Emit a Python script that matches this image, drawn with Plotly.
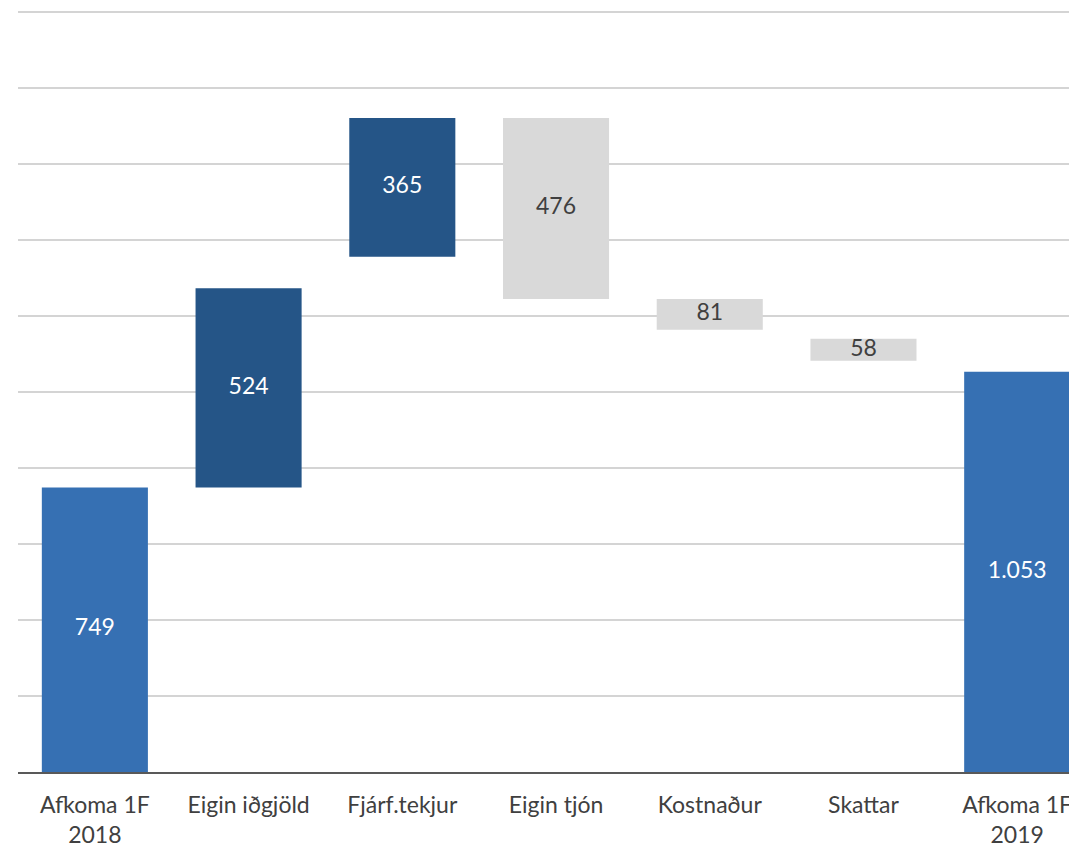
import plotly.graph_objects as go

categories = ["Afkoma 1F<br>2018", "Eigin iðgjöld", "Fjárf.tekjur", "Eigin tjón",
              "Kostnaður", "Skattar", "Afkoma 1F<br>2019"]
values = [749, 524, 365, 476, 81, 58, 1053]
bases = [0, 749, 1356, 1245, 1164, 1082, 0]
kinds = ["total", "up", "up", "down", "down", "down", "total"]
grid_values = [200, 400, 600, 800, 1000, 1200, 1400, 1600, 1800, 2000]

color_map = {"total": "#3670B3", "up": "#255587", "down": "#D9D9D9"}
text_color_map = {"total": "white", "up": "white", "down": "#404040"}

def fmt(v):
    return f"{v:,}".replace(",", ".")

bar_colors = [color_map[k] for k in kinds]
label_colors = [text_color_map[k] for k in kinds]
labels = [fmt(v) for v in values]
mids = [b + v / 2 for b, v in zip(bases, values)]

fig = go.Figure()
fig.add_trace(go.Bar(
    x=categories, y=values, base=bases,
    marker=dict(color=bar_colors, line=dict(width=0)),
    width=0.69, hoverinfo="skip", showlegend=False,
))
fig.add_trace(go.Scatter(
    x=categories, y=mids, mode="text", text=labels,
    textfont=dict(family="Lato", size=23, color=label_colors),
    textposition="middle center", hoverinfo="skip", showlegend=False,
))

fig.update_layout(
    width=1069, height=842,
    margin=dict(l=10, r=0, t=0, b=78),
    paper_bgcolor="white", plot_bgcolor="white",
    font=dict(family="Lato", size=23, color="#404040"),
    xaxis=dict(
        range=[-0.5, 6.389], showgrid=False, ticks="",
        showline=True, linecolor="#595959", linewidth=1.5,
        tickfont=dict(family="Lato", size=23, color="#404040"),
        ticklabelstandoff=12,
    ),
    yaxis=dict(
        range=[0, 2010.5], tickvals=grid_values,
        showticklabels=False,
        showgrid=True, gridcolor="#D4D4D4", gridwidth=1.5,
        zeroline=False, showline=False,
    ),
)

fig.write_html("out.html")
